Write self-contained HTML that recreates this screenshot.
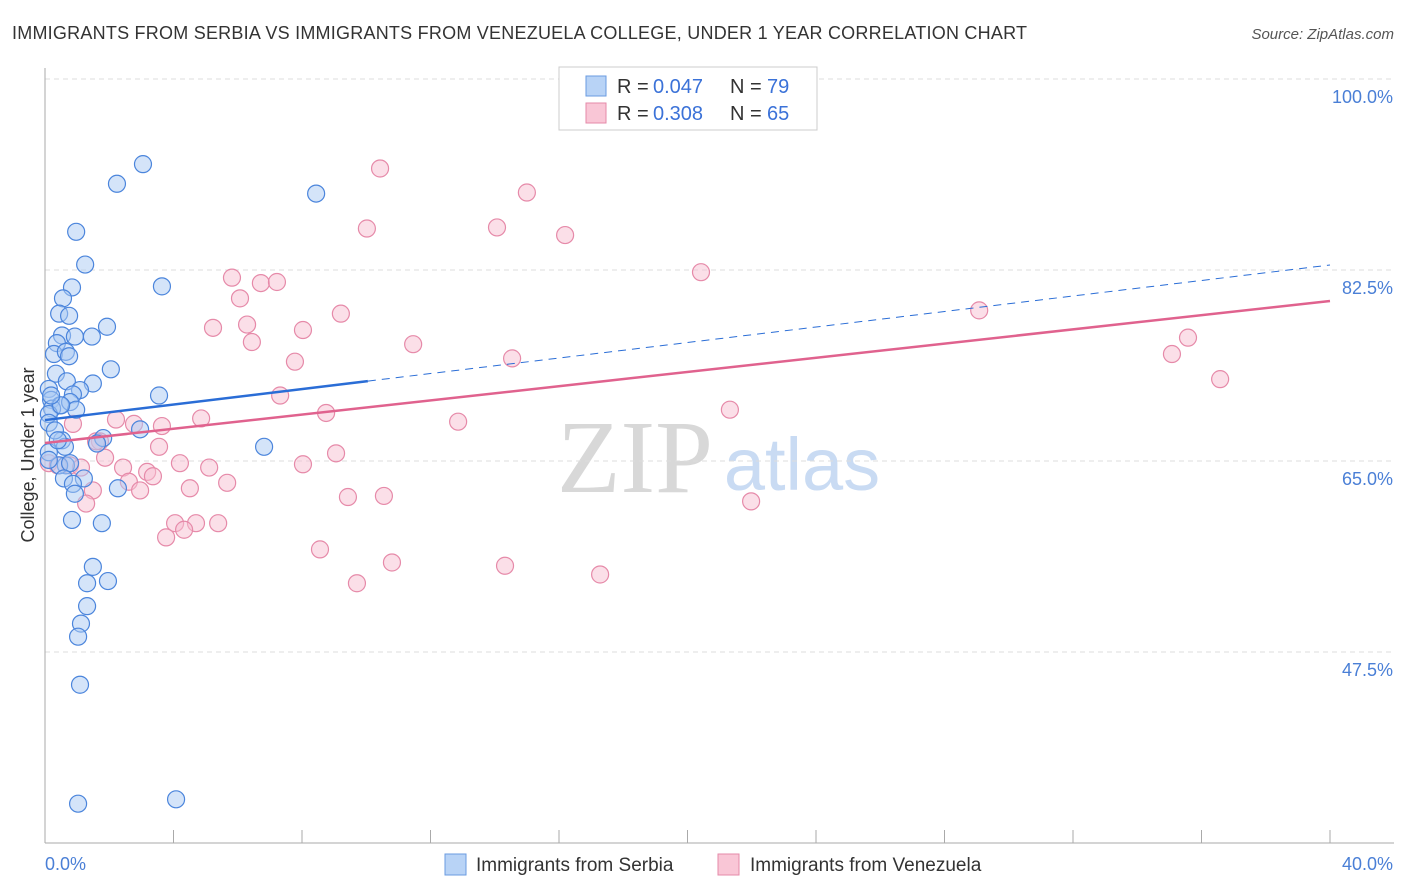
<!DOCTYPE html>
<html><head><meta charset="utf-8"><style>
body{margin:0;background:#fff;font-family:"Liberation Sans",sans-serif;}
svg{display:block}
</style></head><body>
<svg id="c" width="1406" height="892" xmlns="http://www.w3.org/2000/svg">
<text x="12" y="39" font-size="18" fill="#333" textLength="1015">IMMIGRANTS FROM SERBIA VS IMMIGRANTS FROM VENEZUELA COLLEGE, UNDER 1 YEAR CORRELATION CHART</text>
<text x="1394" y="39" font-size="15" fill="#555" font-style="italic" text-anchor="end">Source: ZipAtlas.com</text>
<text x="635" y="492" font-size="104" fill="#d8d8d8" font-family="Liberation Serif,serif" text-anchor="middle">ZIP</text>
<text x="802" y="490" font-size="74" fill="#c9dbf3" text-anchor="middle">atlas</text>
<g id="grid"></g>
<g id="axes"></g>
<g id="pts"></g>
<g id="lines"></g>
<text transform="translate(34,455) rotate(-90)" font-size="18" fill="#333" text-anchor="middle">College, Under 1 year</text>
<text x="45" y="870" font-size="18" fill="#4a7fd6">0.0%</text>
<text x="1393" y="870" font-size="18" fill="#4a7fd6" text-anchor="end">40.0%</text>
<g>
<rect x="559" y="67" width="258" height="63" fill="#fff" stroke="#ccc"/>
<rect x="586" y="76" width="20" height="20" fill="#b8d3f6" stroke="#6a9be0"/>
<rect x="586" y="103" width="20" height="20" fill="#f9c6d6" stroke="#e58aa8"/>
<text x="617" y="93" font-size="20" fill="#333">R =</text>
<text x="653" y="93" font-size="20" fill="#3b72d8">0.047</text>
<text x="730" y="93" font-size="20" fill="#333">N =</text>
<text x="767" y="93" font-size="20" fill="#3b72d8">79</text>
<text x="617" y="120" font-size="20" fill="#333">R =</text>
<text x="653" y="120" font-size="20" fill="#3b72d8">0.308</text>
<text x="730" y="120" font-size="20" fill="#333">N =</text>
<text x="767" y="120" font-size="20" fill="#3b72d8">65</text>
</g>
<g>
<rect x="445" y="854" width="21" height="21" fill="#b8d3f6" stroke="#6a9be0"/>
<text x="476" y="871" font-size="19" fill="#333">Immigrants from Serbia</text></g>
<g>
<rect x="718" y="854" width="21" height="21" fill="#f9c6d6" stroke="#e58aa8"/>
<text x="750" y="871" font-size="19" fill="#333">Immigrants from Venezuela</text></g>
</svg>
<script>
const yTicks=[100,82.5,65,47.5];
const yTickLabels=["100.0%","82.5%","65.0%","47.5%"];
const xTicks=[0,4,8,12,16,20,24,28,32,36,40];
const serbiaX=[3.05,2.24,8.44,0.97,1.25,0.84,3.64,0.56,0.44,0.75,1.93,0.53,0.93,1.46,0.37,0.28,0.65,0.75,2.05,0.34,0.68,1.49,0.12,1.09,0.87,3.55,0.19,0.47,0.78,0.22,0.97,0.12,0.50,2.96,0.12,0.53,1.81,1.62,0.62,0.12,6.82,0.65,0.44,0.78,1.21,0.59,0.87,2.27,0.93,0.84,1.77,1.49,1.31,1.96,1.31,1.12,1.03,1.09,1.03,4.08,0.12,0.19,0.31,0.40];
const serbiaY=[92.2,90.4,89.5,86.0,83.0,80.9,81.0,79.9,78.5,78.3,77.3,76.5,76.4,76.4,75.8,74.8,75.0,74.6,73.4,73.0,72.3,72.1,71.6,71.5,71.1,71.0,70.6,70.1,70.4,69.8,69.7,69.3,70.1,67.9,68.5,66.9,67.1,66.6,66.3,65.8,66.3,64.6,64.6,64.8,63.4,63.4,62.9,62.5,62.0,59.6,59.3,55.3,53.8,54.0,51.7,50.1,48.9,44.5,33.6,34.0,65.1,71.0,67.8,66.9];
const venezX=[10.43,15.0,10.02,14.07,16.19,20.42,5.82,6.72,7.22,6.07,9.21,29.08,5.23,6.29,8.03,6.44,11.46,35.58,35.08,7.78,14.54,36.58,7.32,8.75,21.32,12.86,4.86,2.21,0.87,3.64,2.77,3.55,1.71,1.87,9.06,4.2,5.11,8.03,0.12,0.78,1.12,2.43,3.18,3.36,2.61,5.67,4.51,1.49,2.96,9.43,10.55,1.28,4.05,4.7,5.39,4.33,3.77,8.56,10.8,14.32,17.28,9.71,21.98,0.40,1.59];
const venezY=[91.8,89.6,86.3,86.4,85.7,82.3,81.8,81.3,81.4,79.9,78.5,78.8,77.2,77.5,77.0,75.9,75.7,76.3,74.8,74.1,74.4,72.5,71.0,69.4,69.7,68.6,68.9,68.8,68.4,68.2,68.4,66.3,66.8,65.3,65.7,64.8,64.4,64.7,64.8,64.6,64.4,64.4,64.0,63.6,63.1,63.0,62.5,62.3,62.3,61.7,61.8,61.1,59.3,59.3,59.3,58.7,58.0,56.9,55.7,55.4,54.6,53.8,61.3,64.6,66.8];
const serbiaTrend=[68.75,82.96]; const serbiaSolidEnd=10.05;
const venezTrend=[66.65,79.66];
const NS="http://www.w3.org/2000/svg";
const sx=x=>45+x/40*1285, sy=y=>79+(100-y)*10.914;
function mk(t,a,p){const e=document.createElementNS(NS,t);for(const k in a)e.setAttribute(k,a[k]);document.getElementById(p).appendChild(e);return e;}
yTicks.forEach((v,i)=>{
 const l=mk('line',{x1:45,x2:1394,y1:sy(v),y2:sy(v),stroke:'#ddd','stroke-dasharray':'5,4'},'grid');
 
 
 const t=mk('text',{x:1393,y:sy(v)+24,'font-size':18,fill:'#4a7fd6','text-anchor':'end'},'grid');
 t.textContent=yTickLabels[i];
 
 
});
const ax=mk('line',{x1:45,x2:45,y1:68,y2:843,stroke:'#aaa'},'axes');


const bx=mk('line',{x1:45,x2:1394,y1:843,y2:843,stroke:'#aaa'},'axes');


xTicks.forEach(v=>{const t=mk('line',{x1:sx(v),x2:sx(v),y1:830,y2:843,stroke:'#aaa'},'axes');
 
 });
function pts(X,Y,f,s,n){X.forEach((x,i)=>{const c=mk('circle',{cx:sx(x),cy:sy(Y[i]),r:8.5,fill:f,'fill-opacity':0.5,stroke:s,'stroke-width':1.2},'pts');
 
 });}
pts(venezX,venezY,'#f7bfd1','#e68aa9','venezuela-point');
pts(serbiaX,serbiaY,'#a9c9f3','#4b85dc','serbia-point');
const yb=x=>serbiaTrend[0]+(serbiaTrend[1]-serbiaTrend[0])*x/40;
const l1=mk('line',{x1:sx(0),y1:sy(yb(0)),x2:sx(serbiaSolidEnd),y2:sy(yb(serbiaSolidEnd)),stroke:'#2a6dd6','stroke-width':2.5},'lines');


const l2=mk('line',{x1:sx(serbiaSolidEnd),y1:sy(yb(serbiaSolidEnd)),x2:sx(40),y2:sy(yb(40)),stroke:'#2a6dd6','stroke-width':1,'stroke-dasharray':'8,6'},'lines');


const l3=mk('line',{x1:sx(0),y1:sy(venezTrend[0]),x2:sx(40),y2:sy(venezTrend[1]),stroke:'#e0628e','stroke-width':2.5},'lines');


</script>
</body></html>
